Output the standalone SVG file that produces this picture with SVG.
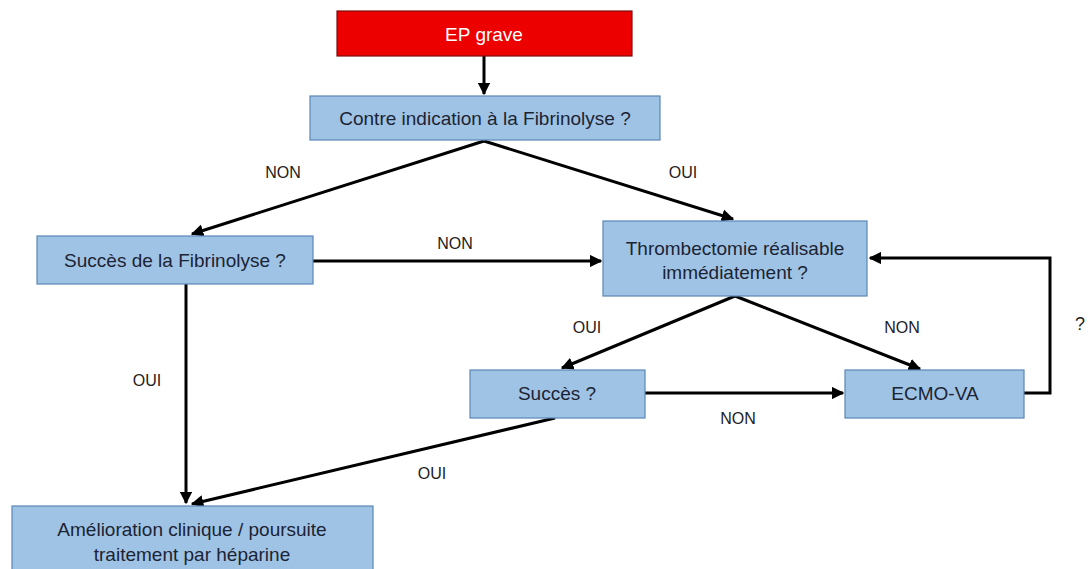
<svg xmlns="http://www.w3.org/2000/svg" width="1090" height="569" viewBox="0 0 1090 569">
<style>
.box{fill:#9fc3e5;stroke:#5a86b5;stroke-width:1.2}
.red{fill:#ec0000;stroke:#7a1010;stroke-width:1.2}
.t{font-family:"Liberation Sans",Arial,sans-serif;font-size:19px;fill:#1c2333;text-anchor:middle}
.tw{font-family:"Liberation Sans",Arial,sans-serif;font-size:19px;fill:#ffffff;text-anchor:middle}
.l{font-family:"Liberation Sans",Arial,sans-serif;font-size:16px;fill:#222;text-anchor:middle}
.c{fill:none;stroke:#000;stroke-width:3;marker-end:url(#ah)}
</style>
<defs>
<marker id="ah" viewBox="0 0 10 10" refX="9" refY="5" markerWidth="4.2" markerHeight="4.2" orient="auto" markerUnits="strokeWidth">
<path d="M0,0 L10,5 L0,10 z" fill="#000"/>
</marker>
</defs>
<rect width="1090" height="569" fill="#fff"/>
<g id="connectors">
<path class="c" d="M484,56 L484,94"/>
<path class="c" d="M484,141 L192,234"/>
<path class="c" d="M484,141 L733,219"/>
<path class="c" d="M313,261 L601,261"/>
<path class="c" d="M1024,393 L1050,393 L1050,258 L870,258"/>
<path class="c" d="M735,296 L562,368"/>
<path class="c" d="M735,296 L920,369"/>
<path class="c" d="M645,393 L843,393"/>
<path class="c" d="M555,418 L192,504"/>
<path class="c" d="M186,284 L186,503"/>
<text class="l" x="283" y="178">NON</text>
<text class="l" x="683" y="178">OUI</text>
<text class="l" x="455" y="249">NON</text>
<text class="l" x="587" y="333">OUI</text>
<text class="l" x="902" y="333">NON</text>
<text class="l" x="738" y="424">NON</text>
<text class="l" x="432" y="479">OUI</text>
<text class="l" x="147" y="386">OUI</text>
<text class="l" x="1080" y="330" style="font-size:18px">?</text>
</g>
<g id="ep"><rect class="red" x="337" y="11" width="295" height="45"/><text class="tw" x="484" y="41">EP grave</text></g>
<g id="contre"><rect class="box" x="310" y="96" width="350" height="44"/><text class="t" x="485" y="125">Contre indication à la Fibrinolyse ?</text></g>
<g id="succesfib"><rect class="box" x="37" y="236" width="276" height="48"/><text class="t" x="175" y="267">Succès de la Fibrinolyse ?</text></g>
<g id="thromb"><rect class="box" x="603" y="221" width="264" height="75"/><text class="t" x="735" y="255">Thrombectomie réalisable</text><text class="t" x="735" y="279">immédiatement ?</text></g>
<g id="succes"><rect class="box" x="470" y="370" width="175" height="48"/><text class="t" x="557" y="400">Succès ?</text></g>
<g id="ecmo"><rect class="box" x="845" y="370" width="179" height="48"/><text class="t" x="935" y="400">ECMO-VA</text></g>
<g id="amelio"><rect class="box" x="12" y="506" width="361" height="70"/><text class="t" x="192" y="536">Amélioration clinique / poursuite</text><text class="t" x="192" y="561">traitement par héparine</text></g>
</svg>
